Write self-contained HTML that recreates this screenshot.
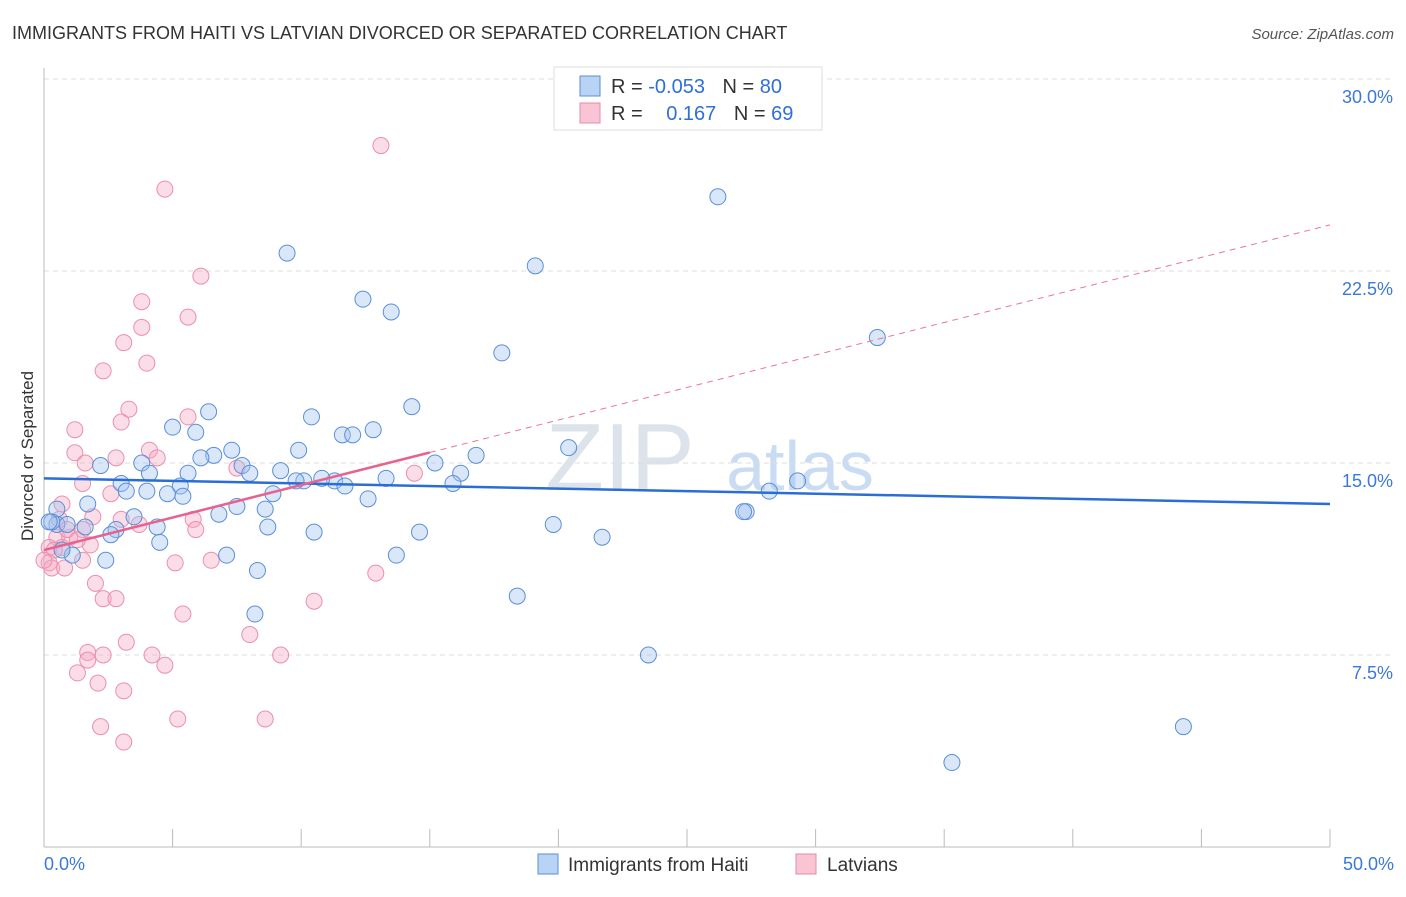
<!DOCTYPE html>
<html><head><meta charset="utf-8"><style>
body{margin:0;background:#fff;font-family:"Liberation Sans",sans-serif}
svg text{font-family:"Liberation Sans",sans-serif}
</style></head><body>
<svg width="1406" height="892" xmlns="http://www.w3.org/2000/svg">
<text x="12" y="39" font-size="18" fill="#333">IMMIGRANTS FROM HAITI VS LATVIAN DIVORCED OR SEPARATED CORRELATION CHART</text>
<text x="1394" y="39" font-size="15" fill="#555" font-style="italic" text-anchor="end">Source: ZipAtlas.com</text>
<text x="33" y="456" font-size="17" fill="#333" text-anchor="middle" transform="rotate(-90 33 456)">Divorced or Separated</text>
<text x="620" y="490" font-size="96" fill="#dde3ea" font-family="Liberation Serif" text-anchor="middle">ZIP</text>
<text x="800" y="490" font-size="70" fill="#c9dcf3" text-anchor="middle">atlas</text>
<g id="grid"></g><g id="axes"></g><g id="pts"></g><g id="lines"></g>
<g>
<rect x="554" y="67" width="268" height="63" fill="#fff" stroke="#ddd"/>
<rect x="580" y="76" width="20" height="20" fill="#b9d3f5" stroke="#5b8fd8"/>
<rect x="580" y="103" width="20" height="20" fill="#f9c5d5" stroke="#e58aa8"/>
<text x="611" y="93" font-size="20" fill="#333">R = <tspan fill="#2f6fd6">-0.053</tspan>  <tspan dx="12">N = </tspan><tspan fill="#2f6fd6">80</tspan></text>
<text x="611" y="120" font-size="20" fill="#333">R = <tspan fill="#2f6fd6" dx="18">0.167</tspan>  <tspan dx="12">N = </tspan><tspan fill="#2f6fd6">69</tspan></text>
</g>
<g>
<rect x="538" y="854" width="20" height="20" fill="#b9d3f5" stroke="#5b8fd8"/>
<text x="568" y="871" font-size="19" fill="#333">Immigrants from Haiti</text>
<rect x="796" y="854" width="20" height="20" fill="#f9c5d5" stroke="#e58aa8"/>
<text x="827" y="871" font-size="19" fill="#333">Latvians</text>
</g>
</svg>
<script>
const haitiX=[9.45,26.2,19.1,12.4,13.5,32.4,17.8,14.3,6.4,10.4,5.0,11.6,12.0,12.8,5.9,7.3,9.9,6.6,6.1,20.4,16.8,15.2,3.8,2.2,7.7,8.0,9.2,4.1,16.2,5.6,13.3,11.3,10.8,10.1,9.8,3.0,5.3,11.7,15.9,28.2,29.3,3.2,4.0,4.8,5.4,12.6,8.9,1.7,0.5,7.5,8.6,3.5,6.8,27.3,27.2,0.5,1.6,2.8,2.6,4.4,8.7,19.8,14.6,10.5,21.7,4.5,1.1,2.4,7.1,13.7,8.3,18.4,8.2,23.5,44.3,35.3,0.3,0.2,0.9,0.7];
const haitiY=[23.2,25.4,22.7,21.4,20.9,19.9,19.3,17.2,17.0,16.8,16.4,16.1,16.1,16.3,16.2,15.5,15.5,15.3,15.2,15.6,15.3,15.0,15.0,14.9,14.9,14.6,14.7,14.6,14.6,14.6,14.4,14.3,14.4,14.3,14.3,14.2,14.1,14.1,14.2,13.9,14.3,13.9,13.9,13.8,13.7,13.6,13.8,13.4,13.2,13.3,13.2,12.9,13.0,13.1,13.1,12.6,12.5,12.4,12.2,12.5,12.5,12.6,12.3,12.3,12.1,11.9,11.4,11.2,11.4,11.4,10.8,9.8,9.1,7.5,4.7,3.3,12.7,12.7,12.6,11.6];
const latX=[13.1,4.7,6.1,3.8,5.6,3.8,3.1,4.0,2.3,3.3,5.6,3.0,1.2,4.1,1.2,2.8,4.4,1.6,7.5,14.4,1.5,2.6,0.7,1.9,3.0,5.8,5.9,3.7,1.5,0.5,1.0,0.7,1.8,0.2,0.4,0.2,0.3,0.8,1.5,5.1,6.5,2.0,2.3,2.8,5.4,10.5,12.9,8.0,3.2,1.7,2.3,4.2,1.7,4.7,9.2,1.3,2.1,3.1,5.2,8.6,2.2,3.1,0.6,0.9,1.3,0.0];
const latY=[27.4,25.7,22.3,21.3,20.7,20.3,19.7,18.9,18.6,17.1,16.8,16.6,16.3,15.5,15.4,15.2,15.2,15.0,14.8,14.6,14.2,13.8,13.4,12.9,12.8,12.8,12.4,12.6,12.4,12.1,12.1,11.7,11.8,11.7,11.6,11.1,10.9,10.9,11.2,11.1,11.2,10.3,9.7,9.7,9.1,9.6,10.7,8.3,8.0,7.6,7.5,7.5,7.3,7.1,7.5,6.8,6.4,6.1,5.0,5.0,4.7,4.1,12.8,12.4,12.0,11.2];
const yTicks=[7.5,15.0,22.5,30.0];
const xTickVals=[0,5,10,15,20,25,30,35,40,45,50];
const haitiTrend=[14.4,13.4];
const latTrend=[11.6,24.3];
const latSolidEnd=15;
const NS="http://www.w3.org/2000/svg";
const X=v=>44+v/50*1286, Y=v=>847-v/7.5*192;
function mk(t,a,p){const e=document.createElementNS(NS,t);for(const k in a)e.setAttribute(k,a[k]);p.appendChild(e);return e;}
const grid=document.getElementById('grid'),axes=document.getElementById('axes'),pts=document.getElementById('pts'),lines=document.getElementById('lines');
yTicks.forEach(v=>{
 const l=mk('line',{x1:44,x2:1394,y1:Y(v),y2:Y(v),stroke:'#ddd','stroke-dasharray':'5,4'},grid);
 
 
 const t=mk('text',{x:1393,y:Y(v)+24,'font-size':18,fill:'#3b78d8','text-anchor':'end'},axes);
 t.textContent=v.toFixed(1)+'%';
 
 
});
const tl=mk('line',{x1:44,x2:1394,y1:Y(30)-0,y2:Y(30),stroke:'#ddd','stroke-dasharray':'5,4'},grid);
mk('line',{x1:44,x2:44,y1:68,y2:847,stroke:'#bbb'},axes);
mk('line',{x1:44,x2:1330,y1:847,y2:847,stroke:'#bbb'},axes);
xTickVals.forEach(v=>{
 const l=mk('line',{x1:X(v),x2:X(v),y1:829,y2:847,stroke:'#bbb'},axes);
 
 
});
[[0,'0.0%','start',44],[50,'50.0%','end',1394]].forEach(a=>{
 const t=mk('text',{x:a[3],y:870,'font-size':18,fill:'#3b78d8','text-anchor':a[2]},axes);
 t.textContent=a[1];
 
 
});
latX.forEach((x,i)=>{
 const c=mk('circle',{cx:X(x),cy:Y(latY[i]),r:8,fill:'rgba(246,170,195,0.4)',stroke:'#eb8fae','stroke-width':1},pts);
 
 
});
haitiX.forEach((x,i)=>{
 const c=mk('circle',{cx:X(x),cy:Y(haitiY[i]),r:8,fill:'rgba(160,195,240,0.4)',stroke:'#5b8fd8','stroke-width':1},pts);
 
 
});
const hl=mk('line',{x1:X(0),y1:Y(haitiTrend[0]),x2:X(50),y2:Y(haitiTrend[1]),stroke:'#2a6dd6','stroke-width':2.5},lines);


const ly=x=>latTrend[0]+(latTrend[1]-latTrend[0])*x/50;
const ld=mk('line',{x1:X(latSolidEnd),y1:Y(ly(latSolidEnd)),x2:X(50),y2:Y(ly(50)),stroke:'#e7769b','stroke-width':1,'stroke-dasharray':'6,5'},lines);


const ls=mk('line',{x1:X(0),y1:Y(ly(0)),x2:X(latSolidEnd),y2:Y(ly(latSolidEnd)),stroke:'#e7628f','stroke-width':2.5},lines);


</script>
</body></html>
